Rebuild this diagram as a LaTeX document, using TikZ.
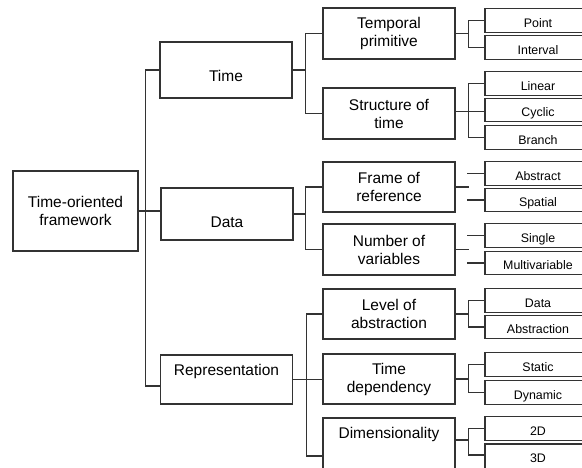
\documentclass[tikz,border=0pt]{standalone}
\usepackage{fontspec}
\setmainfont{Liberation Sans}
\usepackage{tikz}
\usetikzlibrary{positioning}
\definecolor{linec}{HTML}{333333}

\begin{document}
\begin{tikzpicture}[x=1pt,y=-1pt,line width=1.2pt,draw=linec,
  box/.style={draw=linec,line width=1.2pt,inner sep=0pt,align=center,
    font=\fontsize{15.5}{18}\selectfont,minimum width=132},
  leaf/.style={draw=linec,line width=1.2pt,inner sep=0pt,
    font=\fontsize{12.4}{14}\selectfont,minimum width=106,minimum height=23.5,
    text height=14pt,text depth=0pt}]
\useasboundingbox (0,0) rectangle (582,468);
\clip (0,0) rectangle (582,468);
% root
\node[box,minimum width=125,minimum height=80] (root) at (75.5,211) {Time-oriented\\framework};
% first level
\node[box,minimum height=56,text height=24pt,text depth=0pt] (time) at (226,70) {Time};
\node[box,minimum height=52,text height=28pt,text depth=0pt] (data) at (227,214) {Data};
\node[box,minimum height=49,text height=0pt,text depth=7pt] (rep) at (226.5,379.5) {Representation};
% second level
\node[box,minimum height=51] (tp) at (389,33.5) {Temporal\\primitive};
\node[box,minimum height=51] (sot) at (389,113.5) {Structure of\\time};
\node[box,minimum height=50] (fr) at (389,187) {Frame of\\reference};
\node[box,minimum height=51] (nv) at (389,249.5) {Number of\\variables};
\node[box,minimum height=50] (loa) at (389,314) {Level of\\abstraction};
\node[box,minimum height=50] (td) at (389,379) {Time\\dependency};
\node[box,minimum height=60,text height=0pt,text depth=20pt] (dim) at (389,448) {Dimensionality};
% leaves
\node[leaf] (point) at (538,20.5) {Point};
\node[leaf] (interval) at (538,47.5) {Interval};
\node[leaf] (linear) at (538,83.5) {Linear};
\node[leaf] (cyclic) at (538,110) {Cyclic};
\node[leaf] (branch) at (538,137.5) {Branch};
\node[leaf] (abstract) at (538,173.5) {Abstract};
\node[leaf] (spatial) at (538,200) {Spatial};
\node[leaf] (single) at (538,235.5) {Single};
\node[leaf] (multi) at (538,263) {Multivariable};
\node[leaf] (ldata) at (538,300.5) {Data};
\node[leaf] (labs) at (538,327) {Abstraction};
\node[leaf] (static) at (538,364.5) {Static};
\node[leaf] (dynamic) at (538,392.5) {Dynamic};
\node[leaf] (twod) at (538,428.5) {2D};
\node[leaf,minimum height=30,text height=6pt] (threed) at (538,459) {3D};
% root to first level
\draw (root.east) -- ++(7,0) coordinate (rJ) (time.west) -| (rJ) |- ([yshift=-6.5pt]rep.west);
\draw (root.east) -- (root.east -| data.west);
% first to second level
\draw (time.east) -- ++(13,0) coordinate (tJ) (tp.west) -| (tJ) |- (sot.west);
\draw (data.east) -- ++(12,0) coordinate (dJ) (fr.west) -| (dJ) |- (nv.west);
\draw (rep.east) -- (rep.east -| td.west);
\draw ([yshift=-8pt]dim.west) -| ([xshift=13pt]rep.east) |- (loa.west);
% second level to leaves
\draw (tp.east) -- ++(13,0) coordinate (tpJ) (point.west) -| (tpJ) |- (interval.west);
\draw ([yshift=2pt]sot.east) -- ([yshift=2pt]sot.east -| cyclic.west);
\draw (linear.west) -| ([xshift=13pt]sot.east) |- (branch.west);
\draw (fr.east) -- ++(13,0);
\draw (abstract.west) -- ++(-17,0);
\draw (spatial.west) -- ++(-17,0);
\draw (nv.east) -- ++(13,0);
\draw (single.west) -- ++(-17,0);
\draw (multi.west) -- ++(-17,0);
\draw (loa.east) -- ++(13,0) coordinate (lJ) (ldata.west) -| (lJ) |- (labs.west);
\draw (td.east) -- ++(13,0) coordinate (tdJ) (static.west) -| (tdJ) |- (dynamic.west);
\draw ([yshift=8pt]dim.east) -- ++(13,0) coordinate (dimJ) (twod.west) -| (dimJ) |- ([yshift=4pt]threed.west);
\end{tikzpicture}
\end{document}
